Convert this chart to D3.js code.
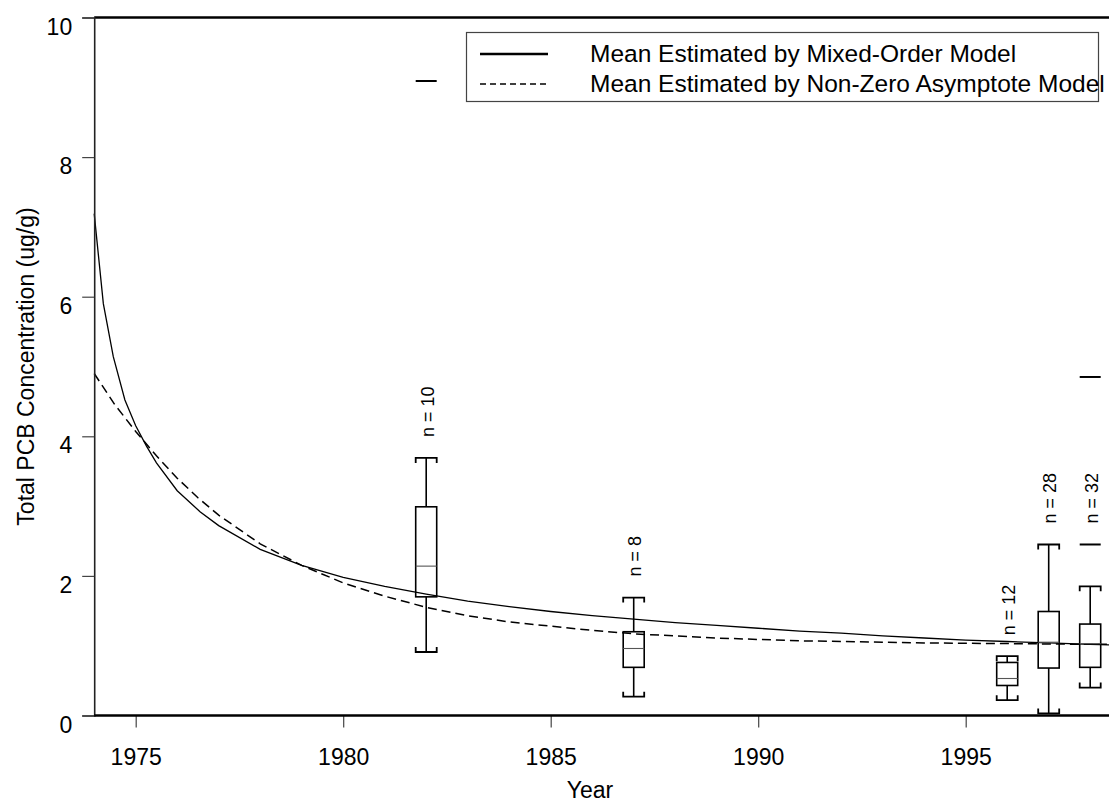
<!DOCTYPE html>
<html>
<head>
<meta charset="utf-8">
<script src="https://cdn.jsdelivr.net/npm/d3@7"></script>
<style>
  html, body { margin: 0; padding: 0; background: #fff; }
  svg { display: block; font-family: "Liberation Sans", Arial, sans-serif; }
</style>
</head>
<body>
<svg id="chart" width="1109" height="806"></svg>
<script>
// Box-plot summaries of total PCB concentration by sampling year
const boxYears = [1982, 1987, 1996, 1997, 1998];
const sampleCounts = [10, 8, 12, 28, 32];
const whiskerLow = [0.91, 0.27, 0.22, 0.03, 0.40];
const quartile1 = [1.70, 0.69, 0.43, 0.68, 0.69];
const medians = [2.14, 0.96, 0.53, 1.05, 1.03];
const quartile3 = [2.99, 1.20, 0.76, 1.49, 1.31];
const whiskerHigh = [3.69, 1.69, 0.85, 2.45, 1.85];
const outliers = [[9.09], [], [], [], [2.45, 4.85]];

// Mean estimated by the mixed-order model
const mixedYears = [1974, 1974.22, 1974.46, 1974.74, 1975, 1975.26, 1975.5, 1976, 1976.55, 1977,
  1978, 1979, 1980, 1981, 1982, 1983, 1984, 1985, 1986, 1987, 1988, 1989, 1990, 1991, 1992,
  1993, 1994, 1995, 1996, 1997, 1998, 1999];
const mixedMean = [7.19, 5.90, 5.14, 4.52, 4.15, 3.86, 3.62, 3.22, 2.92, 2.72,
  2.38, 2.15, 1.98, 1.85, 1.74, 1.64, 1.56, 1.49, 1.43, 1.38, 1.33, 1.29, 1.25, 1.21, 1.18,
  1.14, 1.11, 1.08, 1.06, 1.04, 1.02, 1.00];

// Mean estimated by the non-zero asymptote model
const asymYears = [1974, 1974.5, 1975, 1975.5, 1976, 1976.5, 1977, 1978, 1979, 1980, 1981, 1982,
  1983, 1984, 1985, 1986, 1987, 1988, 1989, 1990, 1991, 1992, 1993, 1994, 1995, 1996, 1997,
  1998, 1999];
const asymMean = [4.90, 4.45, 4.07, 3.72, 3.40, 3.12, 2.87, 2.46, 2.15, 1.90, 1.71, 1.55,
  1.43, 1.34, 1.28, 1.22, 1.17, 1.14, 1.11, 1.09, 1.07, 1.06, 1.05, 1.04, 1.035, 1.03, 1.025,
  1.02, 1.02];

const xTickYears = [1975, 1980, 1985, 1990, 1995];
const yTickValues = [0, 2, 4, 6, 8, 10];
const legendLabels = ["Mean Estimated by Mixed-Order Model", "Mean Estimated by Non-Zero Asymptote Model"];

const svg = d3.select("#chart");
const W = 1109, H = 806;
const plotLeft = 94.2, plotTop = 17.5, plotBottom = 715.5;
const pxPerYear = 41.5;

const x = d3.scaleLinear().domain([1974, 2000]).range([plotLeft, plotLeft + 26 * pxPerYear]);
const y = d3.scaleLinear().domain([0, 10]).range([plotBottom, plotTop]);

svg.append("rect").attr("width", W).attr("height", H).attr("fill", "#fff");

const plot = svg.append("g");

// Model curves
const line = (xs) => d3.line().x((d, i) => x(xs[i])).y(d => y(d)).curve(d3.curveLinear);
plot.append("path").datum(mixedMean)
  .attr("d", line(mixedYears))
  .attr("fill", "none").attr("stroke", "#000").attr("stroke-width", 1.3);
plot.append("path").datum(asymMean)
  .attr("d", line(asymYears))
  .attr("fill", "none").attr("stroke", "#000").attr("stroke-width", 1.5)
  .attr("stroke-dasharray", "9,5");

// Box plots
const halfW = 10.5;
const capHook = 5;
const boxes = boxYears.map((yr, i) => ({
  yr, n: sampleCounts[i], lo: whiskerLow[i], q1: quartile1[i], med: medians[i],
  q3: quartile3[i], hi: whiskerHigh[i], out: outliers[i]
}));

const bg = plot.selectAll("g.box").data(boxes).join("g").attr("class", "box");
bg.each(function (d) {
  const g = d3.select(this);
  const cx = x(d.yr);
  // whiskers
  g.append("line").attr("x1", cx).attr("x2", cx).attr("y1", y(d.q3)).attr("y2", y(d.hi))
    .attr("stroke", "#000").attr("stroke-width", 1.6);
  g.append("line").attr("x1", cx).attr("x2", cx).attr("y1", y(d.q1)).attr("y2", y(d.lo))
    .attr("stroke", "#000").attr("stroke-width", 1.6);
  // caps with short hooks toward the box
  g.append("path")
    .attr("d", `M${cx - halfW},${y(d.hi) + capHook}V${y(d.hi)}H${cx + halfW}V${y(d.hi) + capHook}`)
    .attr("fill", "none").attr("stroke", "#000").attr("stroke-width", 1.8);
  g.append("path")
    .attr("d", `M${cx - halfW},${y(d.lo) - capHook}V${y(d.lo)}H${cx + halfW}V${y(d.lo) - capHook}`)
    .attr("fill", "none").attr("stroke", "#000").attr("stroke-width", 1.8);
  // box
  g.append("rect").attr("x", cx - halfW).attr("y", y(d.q3))
    .attr("width", 2 * halfW).attr("height", y(d.q1) - y(d.q3))
    .attr("fill", "none").attr("stroke", "#000").attr("stroke-width", 1.6);
  // median
  g.append("line").attr("x1", cx - halfW).attr("x2", cx + halfW)
    .attr("y1", y(d.med)).attr("y2", y(d.med))
    .attr("stroke", "#555").attr("stroke-width", 1.1);
  // outliers drawn as short dashes
  d.out.forEach(v => {
    g.append("line").attr("x1", cx - halfW).attr("x2", cx + halfW)
      .attr("y1", y(v)).attr("y2", y(v))
      .attr("stroke", "#000").attr("stroke-width", 2);
  });
  // sample count above the highest nearby point
  const near = d.out.filter(v => v <= d.hi * 1.5);
  const anchor = d3.max([d.hi, ...near]);
  g.append("text")
    .attr("transform", `translate(${cx + 7.5},${y(anchor) - 21}) rotate(-90)`)
    .attr("font-size", 18).attr("fill", "#000")
    .text(`n = ${d.n}`);
});

// Frame line along the top
svg.append("line").attr("x1", plotLeft).attr("x2", W).attr("y1", plotTop).attr("y2", plotTop)
  .attr("stroke", "#000").attr("stroke-width", 2.5);

// Axes
const yAxis = d3.axisLeft(y).tickValues(yTickValues).tickSize(12).tickPadding(10).tickFormat(d3.format("d"));
const ya = svg.append("g").attr("transform", `translate(${plotLeft},0)`).call(yAxis);
ya.select(".domain").attr("stroke", "#222").attr("stroke-width", 1.6);
ya.selectAll(".tick line").attr("stroke", "#444").attr("stroke-width", 1.2);
ya.selectAll(".tick text").attr("font-size", 23).attr("fill", "#000")
  .attr("font-family", "Liberation Sans, Arial, sans-serif")
  .attr("dy", "0.72em");

const xAxis = d3.axisBottom(x).tickValues(xTickYears).tickSize(12).tickPadding(21).tickFormat(d3.format("d"));
const xa = svg.append("g").attr("transform", `translate(0,${plotBottom})`).call(xAxis);
xa.select(".domain").remove();
xa.selectAll(".tick line").attr("stroke", "#444").attr("stroke-width", 1.2);
xa.selectAll(".tick text").attr("font-size", 23).attr("fill", "#000")
  .attr("font-family", "Liberation Sans, Arial, sans-serif");
svg.append("line").attr("x1", plotLeft).attr("x2", W).attr("y1", plotBottom).attr("y2", plotBottom)
  .attr("stroke", "#000").attr("stroke-width", 2.6);

// Axis titles
svg.append("text").attr("x", 590).attr("y", 798).attr("text-anchor", "middle")
  .attr("font-size", 23).text("Year");
svg.append("text").attr("transform", `translate(34,${(plotTop + plotBottom) / 2}) rotate(-90)`)
  .attr("text-anchor", "middle").attr("font-size", 23)
  .text("Total PCB Concentration (ug/g)");

// Legend
const lg = svg.append("g");
lg.append("rect").attr("x", 466.5).attr("y", 32.5).attr("width", 632).attr("height", 69)
  .attr("fill", "#fff").attr("stroke", "#444").attr("stroke-width", 1.2);
const rows = [{ dash: null, w: 2.6 }, { dash: "6,4", w: 1.3 }];
rows.forEach((r, i) => {
  const cy = 54 + i * 30;
  lg.append("line").attr("x1", 480).attr("x2", 548).attr("y1", cy).attr("y2", cy)
    .attr("stroke", "#000").attr("stroke-width", r.w)
    .attr("stroke-dasharray", r.dash);
  lg.append("text").attr("x", 590).attr("y", cy + 8).attr("font-size", 24.5)
    .text(legendLabels[i]);
});
</script>
</body>
</html>
